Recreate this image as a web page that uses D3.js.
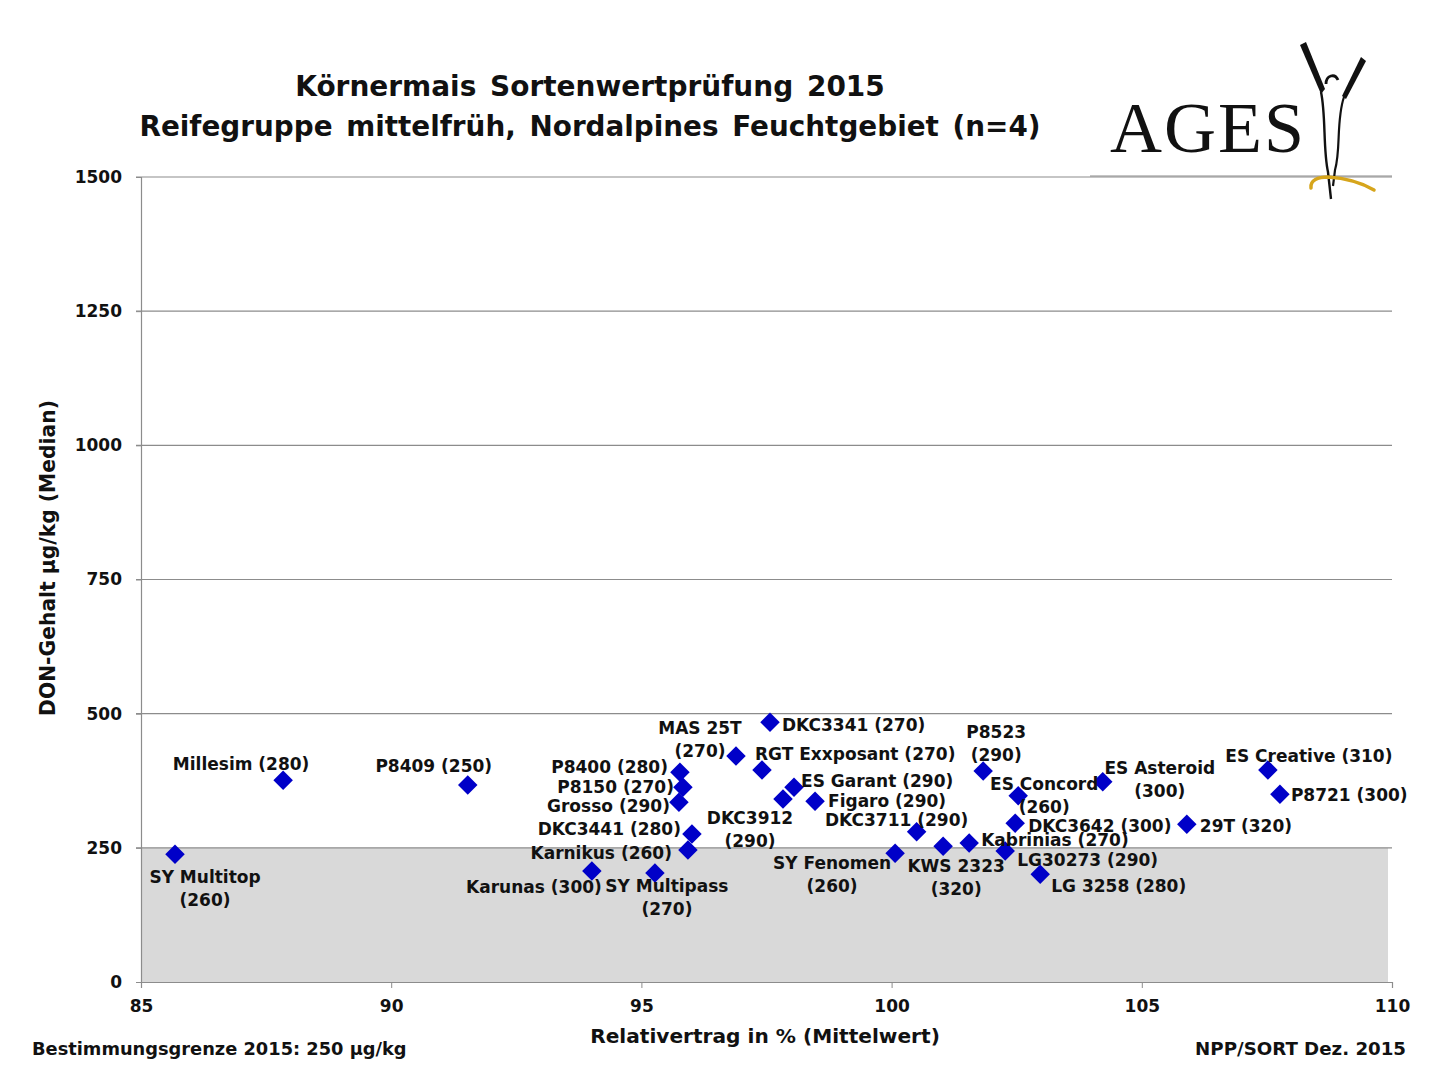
<!DOCTYPE html>
<html><head><meta charset="utf-8">
<script src="https://cdn.jsdelivr.net/npm/d3@7"></script>
<style>
html,body{margin:0;padding:0;background:#fff;}
svg text{font-family:"DejaVu Sans",Verdana,sans-serif;font-weight:bold;fill:#111;}
</style></head>
<body>
<svg id="chart" width="1440" height="1080"></svg>
<script>
// ---- data ----
const names = ["SY Multitop","Millesim","P8409","Karunas","SY Multipass","P8400","P8150","Grosso","DKC3441","Karnikus",
  "MAS 25T","DKC3341","RGT Exxposant","ES Garant","DKC3912","Figaro","DKC3711","SY Fenomen","KWS 2323","Kabrinias",
  "LG30273","P8523","ES Concord","DKC3642","LG 3258","ES Asteroid","29T","ES Creative","P8721"];
const fao = [260,280,250,300,270,280,270,290,280,260,
  270,270,270,290,290,290,290,260,320,270,
  290,290,260,300,280,300,320,310,300];
const relYield = [85.68,87.84,91.53,94.01,95.27,95.77,95.83,95.75,96.01,95.93,
  96.89,97.57,97.41,98.05,97.83,98.47,100.50,100.07,101.03,101.55,
  102.27,101.83,102.53,102.47,102.97,104.22,105.90,107.52,107.76];
const donMedian = [238,376,367,207,203,391,363,335,276,246,
  421,484,395,363,341,337,280,240,253,259,
  244,393,347,296,201,373,294,395,350];
const xTicks = [85,90,95,100,105,110];
const yTicks = [0,250,500,750,1000,1250,1500];
const detectionLimit = 250;
const titleLines = ["Körnermais Sortenwertprüfung 2015","Reifegruppe mittelfrüh, Nordalpines Feuchtgebiet (n=4)"];
const xTitle = "Relativertrag in % (Mittelwert)";
const yTitle = "DON-Gehalt µg/kg (Median)";
const footLeft = "Bestimmungsgrenze 2015: 250 µg/kg";
const footRight = "NPP/SORT Dez. 2015";

// ---- label layout (anchor, dx, dy, two lines) ----
const labelLayout = {
  "SY Multitop":["middle",30,23,true],"Millesim":["middle",-42,-16,false],"P8409":["middle",-34,-19,false],
  "Karunas":["end",10,16,false],"SY Multipass":["middle",12,13,true],"P8400":["end",-12,-5,false],
  "P8150":["end",-9,0,false],"Grosso":["end",-9,4,false],"DKC3441":["end",-11,-5,false],
  "Karnikus":["end",-16,3,false],"MAS 25T":["middle",-36,-28,true],"DKC3341":["start",12,3,false],
  "RGT Exxposant":["start",-7,-16,false],"ES Garant":["start",7,-6,false],"DKC3912":["middle",-33,19,true],
  "Figaro":["start",13,0,false],"DKC3711":["middle",-20,-12,false],"SY Fenomen":["middle",-63,10,true],
  "KWS 2323":["middle",13,20,true],"Kabrinias":["start",12,-3,false],"LG30273":["start",12,9,false],
  "P8523":["middle",13,-39,true],"ES Concord":["middle",26,-12,true],"DKC3642":["start",13,3,false],
  "LG 3258":["start",11,12,false],"ES Asteroid":["middle",57,-14,true],"29T":["start",13,2,false],
  "ES Creative":["middle",41,-14,false],"P8721":["start",11,1,false]
};

const svg = d3.select("#chart");
const pL = 141, pR = 1392, pT = 177, pB = 982;
const x = d3.scaleLinear().domain([85,110]).range([pL,pR]);
const y = d3.scaleLinear().domain([0,1500]).range([pB,pT]);

// gray band under detection limit
svg.append("rect").attr("x",pL).attr("y",y(detectionLimit))
  .attr("width",pR-4-pL).attr("height",y(0)-y(detectionLimit)).attr("fill","#d9d9d9");

// gridlines
svg.append("g").selectAll("line").data(yTicks.filter(d=>d>0)).join("line")
  .attr("x1",pL-5).attr("x2",pR).attr("y1",d=>y(d)).attr("y2",d=>y(d))
  .attr("stroke","#8c8c8c").attr("stroke-width",1.2);

// y axis
const yAxis = svg.append("g").attr("transform",`translate(${pL},0)`)
  .call(d3.axisLeft(y).tickValues(yTicks).tickFormat(d3.format("d")).tickSize(5).tickPadding(14));
yAxis.select(".domain").attr("stroke","#8c8c8c").attr("stroke-width",1.2);
yAxis.selectAll(".tick line").attr("stroke","#8c8c8c");
yAxis.selectAll(".tick text").style("font-size","17px").style("font-family","DejaVu Sans").style("font-weight","bold").attr("fill","#111");

// x axis
const xAxis = svg.append("g").attr("transform",`translate(0,${pB})`)
  .call(d3.axisBottom(x).tickValues(xTicks).tickFormat(d3.format("d")).tickSize(6).tickPadding(12));
xAxis.select(".domain").attr("stroke","#8c8c8c").attr("stroke-width",1.2);
xAxis.selectAll(".tick line").attr("stroke","#8c8c8c");
xAxis.selectAll(".tick text").style("font-size","17px").style("font-family","DejaVu Sans").style("font-weight","bold").attr("fill","#111");

// points
const data = names.map((n,i)=>({name:n,fao:fao[i],x:relYield[i],y:donMedian[i]}));
const diamond = d3.symbol().type(d3.symbolSquare).size(190);
svg.append("g").selectAll("path").data(data).join("path")
  .attr("d",diamond)
  .attr("transform",d=>`translate(${x(d.x)},${y(d.y)}) rotate(45)`)
  .attr("fill","#0000c8");

// labels
const lg = svg.append("g");
data.forEach(d=>{
  const L = labelLayout[d.name];
  const px = x(d.x), py = y(d.y);
  const t = lg.append("text").attr("text-anchor",L[0]).attr("dominant-baseline","central")
    .style("font-size","17px");
  if(L[3]){
    t.append("tspan").attr("x",px+L[1]).attr("y",py+L[2]).text(d.name);
    t.append("tspan").attr("x",px+L[1]).attr("y",py+L[2]+23).text(`(${d.fao})`);
  } else {
    t.attr("x",px+L[1]).attr("y",py+L[2]).text(`${d.name} (${d.fao})`);
  }
});

function fit(sel, w){
  const cur = sel.node().getComputedTextLength();
  const fs = parseFloat(sel.style("font-size"));
  sel.style("font-size",(fs*w/cur)+"px");
}

// title
const t1 = svg.append("text").attr("x",590).attr("y",86).attr("text-anchor","middle").attr("dominant-baseline","central")
  .style("font-size","27px").style("word-spacing","4px").text(titleLines[0]);
fit(t1,590);
const t2 = svg.append("text").attr("x",590).attr("y",126).attr("text-anchor","middle").attr("dominant-baseline","central")
  .style("font-size","27px").style("word-spacing","4px").text(titleLines[1]);
fit(t2,902);

// axis titles
const xt = svg.append("text").attr("x",765).attr("y",1036).attr("text-anchor","middle").attr("dominant-baseline","central")
  .style("font-size","20px").text(xTitle);
fit(xt,350);
const yt = svg.append("text").attr("transform","translate(48,558) rotate(-90)").attr("text-anchor","middle").attr("dominant-baseline","central")
  .style("font-size","20px").text(yTitle);
fit(yt,316);

// footers
const fl = svg.append("text").attr("x",32).attr("y",1048).attr("dominant-baseline","central").style("font-size","16px").text(footLeft);
fit(fl,375);
const fr = svg.append("text").attr("x",1406).attr("y",1048).attr("text-anchor","end").attr("dominant-baseline","central").style("font-size","16px").text(footRight);
fit(fr,211);

// logo
const logo = svg.append("g");
const ages = logo.append("text").attr("x",1110).attr("y",152).style("font-family","'Liberation Serif','DejaVu Serif',serif")
  .style("font-weight","normal").style("font-size","64px").style("letter-spacing","2px").attr("fill","#111").text("AGES");
fit(ages,197);
logo.append("line").attr("x1",1090).attr("x2",pR).attr("y1",176).attr("y2",176).attr("stroke","#8c8c8c").attr("stroke-width",1.2);
// figure
logo.append("path").attr("d","M1300,45 L1306,42 L1325,89 L1321,94 Z").attr("fill","#111");
logo.append("path").attr("d","M1361,57 L1366,61 L1346,99 L1342,96 Z").attr("fill","#111");
logo.append("path").attr("d","M1321,92 C1326,115 1323,150 1328,172 L1331,199").attr("fill","none").attr("stroke","#111").attr("stroke-width",2.4);
logo.append("path").attr("d","M1344,97 C1336,120 1341,150 1335,170 L1333,186").attr("fill","none").attr("stroke","#111").attr("stroke-width",2.2);
logo.append("path").attr("d","M1326,84 C1326,75 1335,73 1338,80").attr("fill","none").attr("stroke","#111").attr("stroke-width",2.8);
logo.append("path").attr("d","M1311,188 C1310,180 1318,177 1328,177 C1345,178 1362,183 1374,190")
  .attr("fill","none").attr("stroke","#d6a51c").attr("stroke-width",3.5).attr("stroke-linecap","round");
</script>
</body></html>
